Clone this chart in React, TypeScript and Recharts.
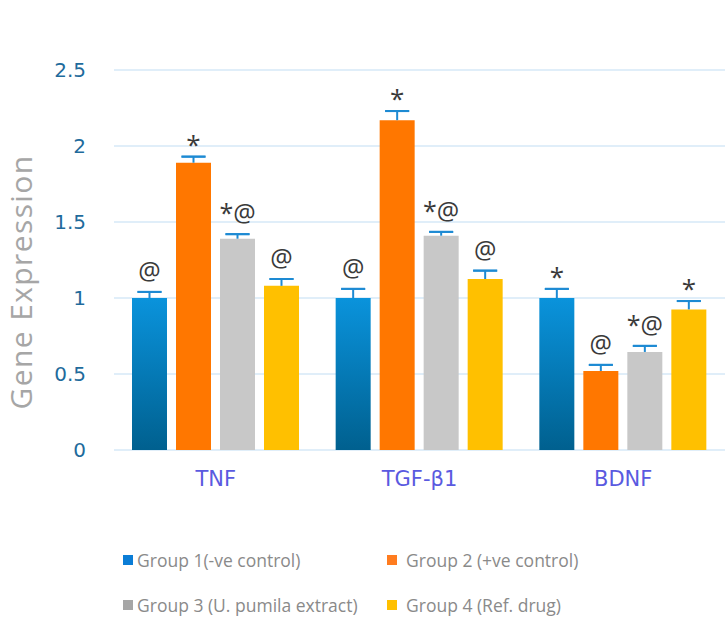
import React from "react";
import { BarChart, Bar, XAxis, YAxis, CartesianGrid, ErrorBar, LabelList, Label } from "recharts";

const categories = ["TNF", "TGF-β1", "BDNF"];
const group1 = [1.0, 1.0, 1.0];
const group2 = [1.89, 2.17, 0.52];
const group3 = [1.39, 1.41, 0.645];
const group4 = [1.08, 1.125, 0.925];
const err1 = [0.04, 0.06, 0.06];
const err2 = [0.04, 0.06, 0.04];
const err3 = [0.03, 0.025, 0.04];
const err4 = [0.045, 0.055, 0.055];
const sig1 = ["@", "@", "*"];
const sig2 = ["*", "*", "@"];
const sig3 = ["*@", "*@", "*@"];
const sig4 = ["@", "@", "*"];
const yTicks = [0, 0.5, 1, 1.5, 2, 2.5];
const yTickLabels = ["0", "0.5", "1", "1.5", "2", "2.5"];
const seriesNames = [
  "Group 1(-ve control)",
  "Group 2 (+ve control)",
  "Group 3 (U. pumila extract)",
  "Group 4 (Ref. drug)",
];

const errs = [err1, err2, err3, err4];
const vals = [group1, group2, group3, group4];

const data = categories.map((name, i) => {
  const row: any = { name };
  vals.forEach((v, k) => {
    row[`g${k + 1}`] = v[i];
    // stem: from bar top up to the cap (no caps drawn)
    row[`stem${k + 1}`] = [0, errs[k][i]];
    // cap: zero-length, both caps drawn at the top end only
    row[`cap${k + 1}`] = [-errs[k][i], errs[k][i]];
  });
  row.s1 = sig1[i];
  row.s2 = sig2[i];
  row.s3 = sig3[i];
  row.s4 = sig4[i];
  return row;
});

const makeSigLabel = (series: number) => (props: any) => {
  const { x, y, width, height, value, index } = props;
  if (value == null) return null;
  const v = vals[series][index];
  const e = errs[series][index];
  const capY = Number(y) - (Number(height) * e) / v;
  const cx = Number(x) + Number(width) / 2;
  const onlyStar = value === "*";
  return (
    <text
      x={cx}
      y={onlyStar ? capY - 3 : capY - 12}
      textAnchor="middle"
      fontFamily="Open Sans"
      fontSize={onlyStar ? 26 : 25}
      fill="#3a3a3a"
    >
      {value}
    </text>
  );
};

const YTick = (props: any) => {
  const { x, y, payload, index } = props;
  return (
    <text
      x={x - 28}
      y={y}
      dy="0.36em"
      textAnchor="end"
      fontFamily="DejaVu Sans"
      fontSize={20}
      fill="#1f6b9c"
    >
      {yTickLabels[index] ?? String(payload.value)}
    </text>
  );
};

const XTick = (props: any) => {
  const { x, y, payload } = props;
  return (
    <text
      x={x}
      y={y + 28}
      dy="0.36em"
      textAnchor="middle"
      fontFamily="DejaVu Sans"
      fontSize={21}
      fill="#5a5ae0"
    >
      {payload.value}
    </text>
  );
};

const YLabel = (props: any) => {
  const vb = props.viewBox || {};
  const cx = vb.x - 54;
  const cy = vb.y + vb.height / 2 + 22;
  return (
    <text
      x={cx}
      y={cy}
      transform={`rotate(-90 ${cx} ${cy})`}
      textAnchor="middle"
      dominantBaseline="central"
      fontFamily="Open Sans"
      fontSize={30}
      letterSpacing={1.4}
      fill="#a6a6a6"
    >
      Gene Expression
    </text>
  );
};

const legendColors = ["#0b7dd6", "#ff7c1f", "#a6a6a6", "#ffc000"];
const legendPos = [
  { sx: 123, tx: 137, cy: 560 },
  { sx: 387, tx: 406, cy: 560 },
  { sx: 123, tx: 137, cy: 605 },
  { sx: 387, tx: 406, cy: 605 },
];

const fills = ["url(#blueGrad)", "#ff7700", "#c8c8c8", "#ffc000"];
const errColor = "#1d8ad3";

export default function App() {
  return (
    <div style={{ position: "absolute", left: 0, top: 0, width: 728, height: 619, background: "#fff" }}>
      <BarChart
        width={728}
        height={619}
        data={data}
        margin={{ top: 70, right: 3, left: 74, bottom: 139 }}
        barSize={35}
        barGap={9}
        barCategoryGap={18}
      >
        <defs>
          <linearGradient id="blueGrad" x1="0" y1="0" x2="0" y2="1">
            <stop offset="0%" stopColor="#0a93dc" />
            <stop offset="100%" stopColor="#00608f" />
          </linearGradient>
        </defs>
        <CartesianGrid vertical={false} stroke="#d6e8f7" strokeWidth={1.6} />
        <XAxis
          dataKey="name"
          height={30}
          axisLine={false}
          tickLine={false}
          tickSize={0}
          tickMargin={0}
          tick={<XTick />}
        />
        <YAxis
          width={40}
          domain={[0, 2.5]}
          ticks={yTicks}
          axisLine={false}
          tickLine={false}
          tickSize={0}
          tickMargin={0}
          tick={<YTick />}
          interval={0}
        >
          <Label content={<YLabel />} />
        </YAxis>
        {[0, 1, 2, 3].map((k) => (
          <Bar
            key={k}
            dataKey={`g${k + 1}`}
            name={seriesNames[k]}
            fill={fills[k]}
            isAnimationActive={false}
          >
            <ErrorBar dataKey={`stem${k + 1}`} width={0} stroke={errColor} strokeWidth={2} direction="y" />
            <ErrorBar dataKey={`cap${k + 1}`} width={12} stroke={errColor} strokeWidth={2} direction="y" />
            <LabelList dataKey={`s${k + 1}`} content={makeSigLabel(k)} />
          </Bar>
        ))}
      </BarChart>
      {seriesNames.map((n, i) => (
        <div key={n}>
          <div
            style={{
              position: "absolute",
              left: legendPos[i].sx,
              top: legendPos[i].cy - 5,
              width: 10,
              height: 10,
              background: legendColors[i],
            }}
          />
          <div
            style={{
              position: "absolute",
              left: legendPos[i].tx,
              top: legendPos[i].cy - 12,
              height: 24,
              lineHeight: "24px",
              fontFamily: "Open Sans",
              fontSize: 17.5,
              color: "#8a8a8a",
              whiteSpace: "nowrap",
            }}
          >
            {n}
          </div>
        </div>
      ))}
    </div>
  );
}
